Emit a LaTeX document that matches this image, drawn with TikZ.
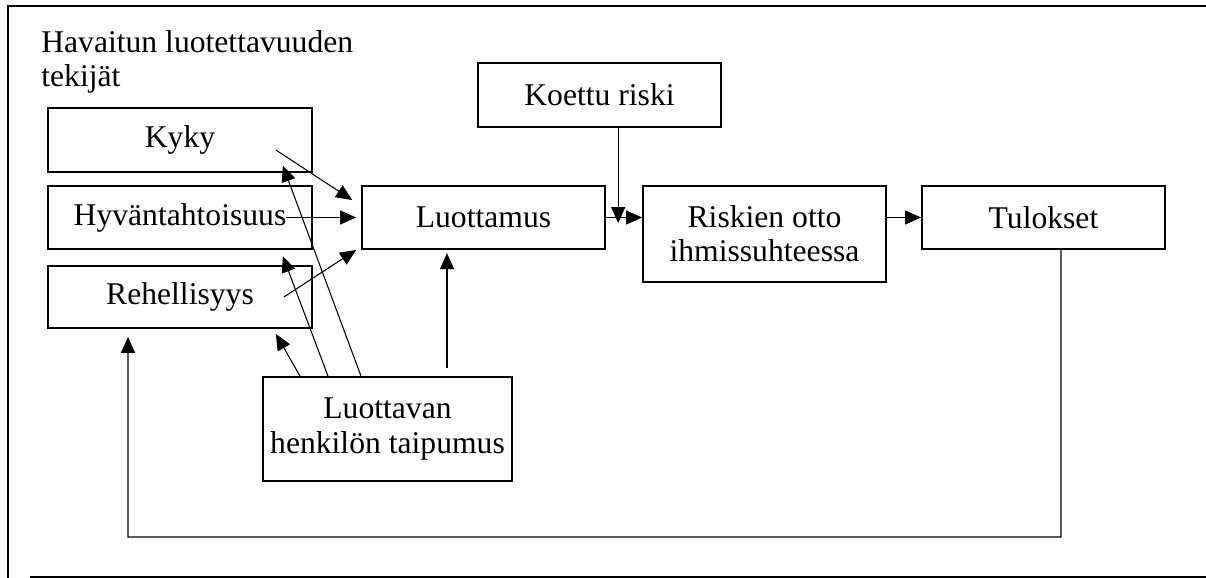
\documentclass[tikz,border=0pt]{standalone}
\usepackage{fontspec}
\setmainfont{Liberation Serif}
\usetikzlibrary{arrows.meta,calc}

\begin{document}
\begin{tikzpicture}[
    >={Triangle[length=0.32cm, width=0.28cm]},
    box/.style={rectangle, draw, line width=1pt, minimum width=4.86cm, minimum height=1.27cm, align=center, font=\fontsize{18}{19.4}\selectfont, inner sep=0pt},
    arrow/.style={->, line width=0.6pt},
]
\useasboundingbox (0,0) rectangle (24.12,-11.56);
% frame
\draw[line width=0.8pt] (24.12,-0.12) -- (0.16,-0.12) -- (0.16,-11.56);
\draw[line width=0.8pt] (0.6,-11.54) -- (24.12,-11.54);

\node[anchor=north west, align=left, inner sep=0pt, font=\fontsize{18}{19.4}\selectfont] (title) at (0.82,-0.6) {Havaitun luotettavuuden\\tekijät};

\node[box, minimum width=5.28cm] (kyky) at (3.6,-2.8) {Kyky};
\node[box, minimum width=5.28cm] (hyva) at (3.6,-4.35) {Hyväntahtoisuus};
\node[box, minimum width=5.28cm, minimum height=1.24cm] (reh) at (3.6,-5.94) {Rehellisyys};
\node[box] (luot) at (9.67,-4.35) {Luottamus};
\node[box] (koettu) at (11.99,-1.9) {Koettu riski};
\node[box, minimum height=1.92cm] (risk) at (15.29,-4.68) {Riskien otto\\ihmissuhteessa};
\node[box] (tul) at (20.87,-4.35) {Tulokset};
\node[box, minimum width=4.98cm, minimum height=2.08cm] (taip) at (7.75,-8.58) {Luottavan\\henkilön taipumus};

\coordinate (riskin) at ($(luot.east)!0.34!(risk.west)$);
\coordinate (fb) at (2.56,-10.74);

\draw[arrow] ([xshift=-0.74cm,yshift=-0.2cm]kyky.east) -- ([xshift=-0.18cm,yshift=0.35cm]luot.west);
\draw[arrow] ([xshift=-0.54cm]hyva.east) -- ([xshift=-0.1cm]luot.west);
\draw[arrow] ([xshift=-0.58cm]reh.east) -- ([xshift=-0.1cm,yshift=-0.65cm]luot.west);

\draw[arrow] ([xshift=-0.53cm]taip.north) -- ([xshift=-0.6cm,yshift=0.14cm]kyky.south east);
\draw[arrow] ([xshift=-1.19cm]taip.north) -- ([xshift=-0.6cm,yshift=-0.12cm]hyva.south east);
\draw[arrow] ([xshift=-1.75cm]taip.north) -- ([xshift=-0.74cm,yshift=-0.1cm]reh.south east);
\draw[arrow] ([xshift=-0.73cm,yshift=-2.36cm]luot.south) -- ([xshift=-0.73cm,yshift=-0.06cm]luot.south);

\draw[arrow] (koettu.south -| riskin) -- (riskin);
\draw[arrow] (luot.east) -- (luot.east -| risk.west);
\draw[arrow] (tul.west -| risk.east) -- (tul.west);

\draw[arrow] ([xshift=0.35cm]tul.south) |- (fb) -- ([xshift=-1.04cm,yshift=-0.16cm]reh.south);
\end{tikzpicture}
\end{document}
